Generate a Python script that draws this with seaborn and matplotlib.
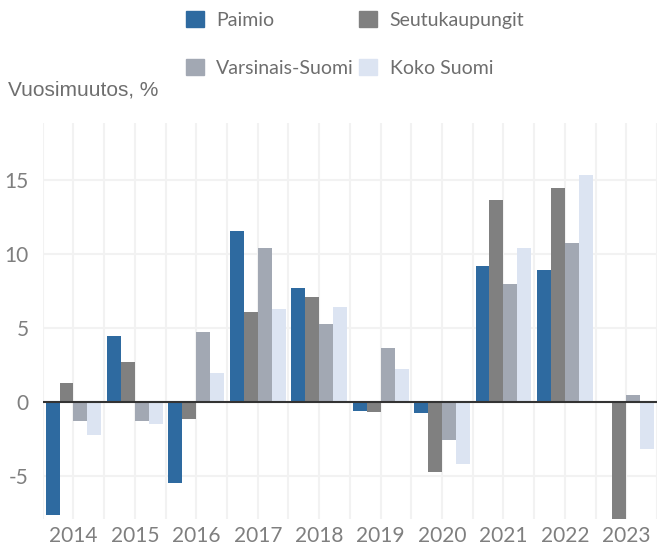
import numpy as np
import pandas as pd
import matplotlib
matplotlib.use("Agg")
import matplotlib.pyplot as plt
import matplotlib.patches as mpatches
import seaborn as sns

# Data (annual change, %)
years = ["2014", "2015", "2016", "2017", "2018", "2019", "2020", "2021", "2022", "2023"]
series_names = ["Paimio", "Seutukaupungit", "Varsinais-Suomi", "Koko Suomi"]
paimio = [-7.67, 4.44, -5.48, 11.55, 7.69, -0.61, -0.74, 9.18, 8.91, -0.05]
seutukaupungit = [1.27, 2.68, -1.15, 6.07, 7.08, -0.68, -4.73, 13.65, 14.46, -9.0]
varsinais_suomi = [-1.28, -1.28, 4.71, 10.40, 5.26, 3.63, -2.57, 7.96, 10.74, 0.45]
koko_suomi = [-2.23, -1.49, 1.94, 6.27, 6.40, 2.21, -4.19, 10.40, 15.34, -3.18]
colors = ["#2e6aa0", "#808080", "#a2a8b3", "#dce4f2"]
y_ticks = [-5, 0, 5, 10, 15]

rows = []
for name, vals in zip(series_names, [paimio, seutukaupungit, varsinais_suomi, koko_suomi]):
    for yr, v in zip(years, vals):
        rows.append({"year": yr, "series": name, "value": v})
df = pd.DataFrame(rows)

sns.set_style("white")
plt.rcParams["font.family"] = ["Lato", "DejaVu Sans"]

fig = plt.figure(figsize=(6.58, 5.48), dpi=100)
ax = fig.add_axes([0.065, 0.053, 0.9335, 0.7225])

sns.barplot(data=df, x="year", y="value", hue="series", hue_order=series_names,
            palette=colors, width=0.91, gap=0, saturation=1, errorbar=None,
            linewidth=0, ax=ax, legend=False, zorder=2)

ax.set_xlim(-0.5, 9.5)
ax.set_ylim(-7.94, 18.86)
ax.set_yticks(y_ticks)
ax.set_yticklabels([str(t) for t in y_ticks])
ax.set_xticks(np.arange(-0.5, 10, 1.0), minor=True)

ax.set_axisbelow(True)
ax.grid(axis="y", color="#f2f2f2", linewidth=1.5, zorder=0)
ax.grid(axis="x", which="both", color="#f2f2f2", linewidth=1.5, zorder=0)
ax.axhline(0, color="#333333", linewidth=1.5, zorder=3)

for s in ax.spines.values():
    s.set_visible(False)
ax.tick_params(axis="both", which="both", length=0, labelsize=15, colors="#7f7f7f")
ax.tick_params(axis="y", pad=10)
ax.tick_params(axis="x", pad=5)
ax.set_xlabel("")
ax.set_ylabel("")

fig.text(8 / 658, 1 - 96 / 548, "Vuosimuutos, %", fontsize=15, color="#6e6e6e",
         family=["Liberation Sans", "DejaVu Sans"], va="baseline", ha="left")

handles = [mpatches.Patch(color=c, label=n) for c, n in zip(colors, series_names)]
order = [0, 2, 1, 3]
fig.legend([handles[i] for i in order], [series_names[i] for i in order],
           ncol=2, loc="upper left", bbox_to_anchor=(180 / 658, 1 - 5 / 548),
           frameon=False, fontsize=14, labelcolor="#6e6e6e",
           handlelength=0.92, handleheight=0.92, handletextpad=0.65,
           columnspacing=0.25, labelspacing=1.55, borderaxespad=0, borderpad=0.3)

fig.savefig("out.png", dpi=100)
